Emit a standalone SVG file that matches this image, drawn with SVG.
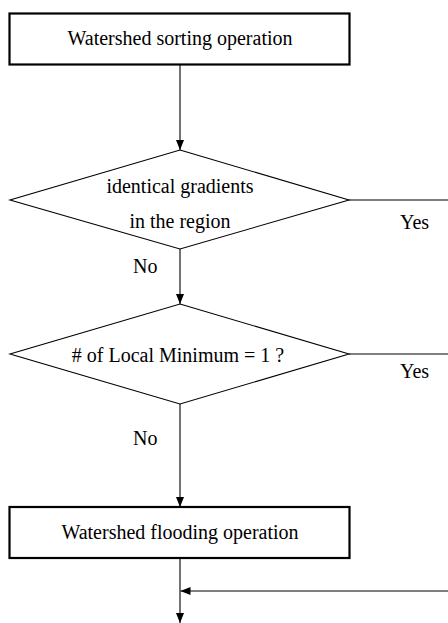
<svg xmlns="http://www.w3.org/2000/svg" width="448" height="623" viewBox="0 0 448 623">
  <style>
    text { font-family: 'Liberation Serif', 'DejaVu Serif', 'Times New Roman', Times, serif; font-size: 20px; fill: #000; }
    .mid { text-anchor: middle; }
    .box { fill: #fff; stroke: #000; stroke-width: 2.2; }
    .dia { fill: #fff; stroke: #000; stroke-width: 1.1; }
    .link { fill: none; stroke: #000; stroke-width: 1.1; }
  </style>
  <defs>
    <marker id="arrow" viewBox="0 0 10 8" refX="10" refY="4" markerWidth="10" markerHeight="8" markerUnits="userSpaceOnUse" orient="auto">
      <path d="M0,0 L10,4 L0,8 Z" fill="#000"/>
    </marker>
  </defs>
  <rect width="448" height="623" fill="#fff"/>

  <g id="connectors">
    <line class="link" x1="180" y1="65" x2="180" y2="150" marker-end="url(#arrow)"/>
    <line class="link" x1="349" y1="200" x2="448" y2="200"/>
    <line class="link" x1="180" y1="249" x2="180" y2="304" marker-end="url(#arrow)"/>
    <line class="link" x1="349" y1="354" x2="448" y2="354"/>
    <line class="link" x1="180" y1="404" x2="180" y2="507" marker-end="url(#arrow)"/>
    <line class="link" x1="180" y1="558" x2="180" y2="623" marker-end="url(#arrow)"/>
    <line class="link" x1="448" y1="591" x2="180.5" y2="591" marker-end="url(#arrow)"/>
    <text x="133" y="273" font-family="Liberation Serif, serif" font-size="20">No</text>
    <text x="400" y="229" font-family="Liberation Serif, serif" font-size="20">Yes</text>
    <text x="133" y="445" font-family="Liberation Serif, serif" font-size="20">No</text>
    <text x="400" y="378" font-family="Liberation Serif, serif" font-size="20">Yes</text>
  </g>

  <g id="sorting">
    <rect class="box" x="9.5" y="13.5" width="340" height="51"/>
    <text class="mid" x="180" y="45">Watershed sorting operation</text>
  </g>

  <g id="identical-gradients">
    <polygon class="dia" points="180,150 349,200 180,249 10,200"/>
    <text class="mid" x="180" y="193">identical gradients</text>
    <text class="mid" x="180" y="228">in the region</text>
  </g>

  <g id="local-minimum">
    <polygon class="dia" points="180,304 349,354 180,404 10,354"/>
    <text class="mid" x="178" y="362"># of Local Minimum = 1 ?</text>
  </g>

  <g id="flooding">
    <rect class="box" x="9.5" y="507" width="340" height="51"/>
    <text class="mid" x="180" y="539">Watershed flooding operation</text>
  </g>
</svg>
